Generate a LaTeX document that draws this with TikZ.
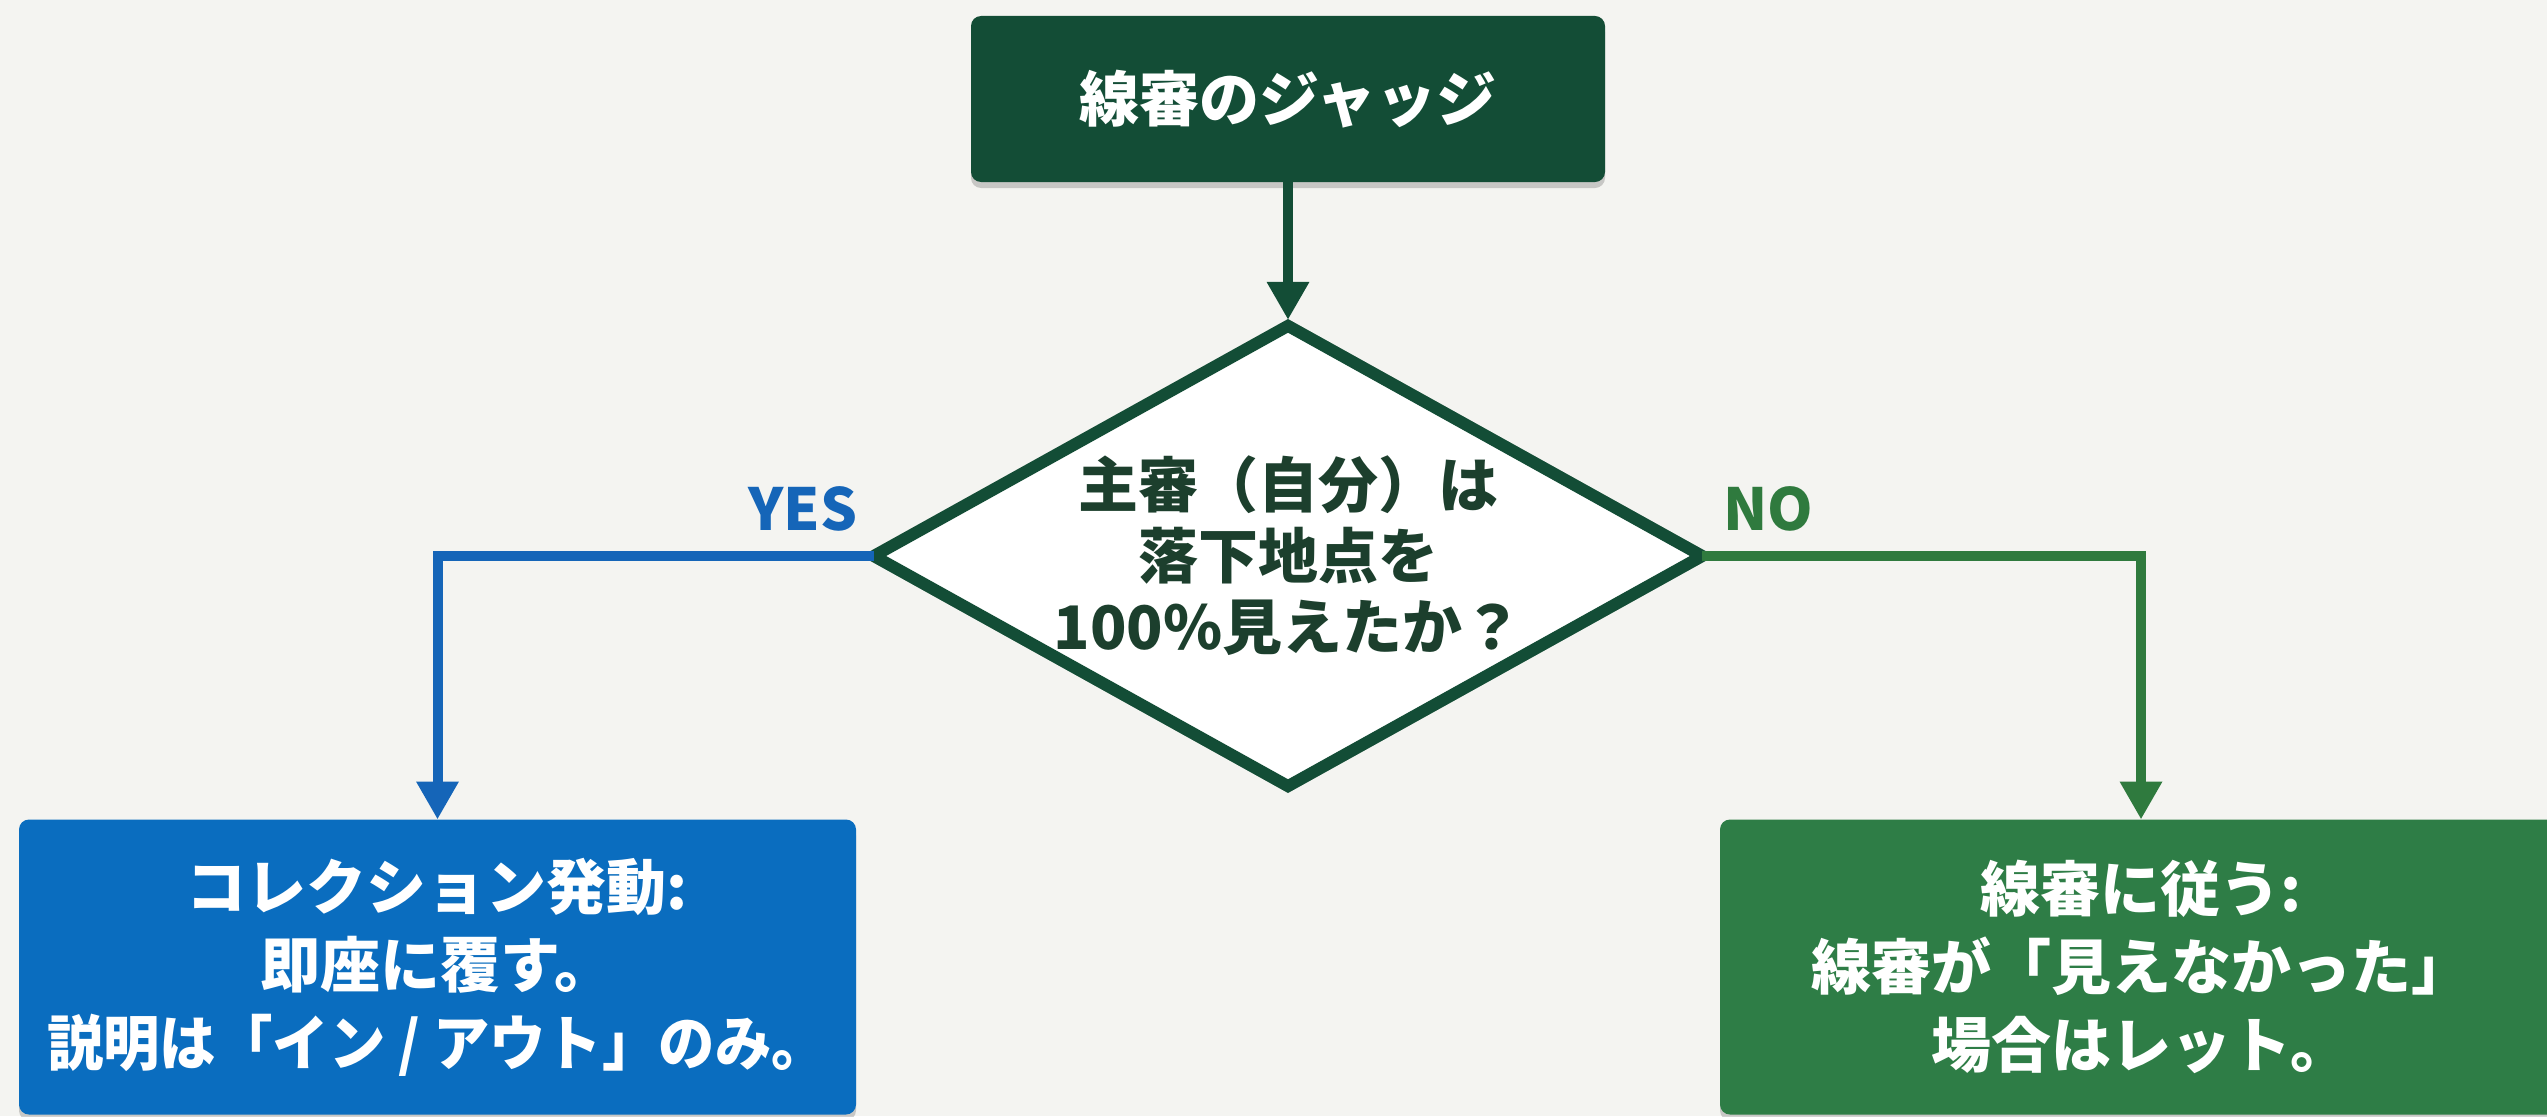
\documentclass[tikz,border=0pt]{standalone}
\usepackage{fontspec}
\usepackage{graphicx}
\setmainfont{Noto Sans CJK JP}
\usetikzlibrary{arrows.meta,shapes.geometric,shadows}
\definecolor{bgc}{HTML}{F4F4F1}
\definecolor{darkg}{HTML}{134D36}
\definecolor{dtext}{HTML}{1C3F2D}
\definecolor{blueb}{HTML}{0A6DBF}
\definecolor{bluel}{HTML}{1565B8}
\definecolor{greenb}{HTML}{2E7D46}
\definecolor{greenl}{HTML}{2F7A3E}
\tikzset{
  txt/.style={font=\bfseries\fontsize{60pt}{78pt}\selectfont, align=center},
  boxstyle/.style={txt, rounded corners=10pt, inner sep=0pt, outer sep=0pt, text=white,
     drop shadow={shadow xshift=0pt, shadow yshift=-6pt, opacity=0.18, fill=black}},
  decision/.style={diamond, draw=darkg, line width=12pt, fill=white!97!bgc, inner sep=0pt, outer sep=0pt,
     minimum width=806pt, minimum height=448pt, aspect=1.8, text=dtext,
     font=\bfseries\fontsize{60pt}{71pt}\selectfont, align=center},
  lbl/.style={font=\bfseries\fontsize{58pt}{60pt}\selectfont},
  tip/.style={-{Triangle[width=40pt,length=38pt]}},
}
\begin{document}
\begin{tikzpicture}[x=1pt,y=-1pt]
\fill[bgc] (0,0) rectangle (2547,1116);
\useasboundingbox (0,0) rectangle (2547,1116);
\node[boxstyle, fill=darkg, minimum width=634pt, minimum height=166pt] (top) at (1288,99) {線審のジャッジ};
\node[decision] (q) at (1288,556) {主審（自分）は\\落下地点を\\100\%見えたか？};
\node[boxstyle, fill=blueb, minimum width=837pt, minimum height=295pt] (yes) at (437.5,967) {コレクション発動:\\即座に覆す。\\\scalebox{0.94}[1]{説明は「イン / アウト」のみ。}};
\node[boxstyle, fill=greenb, minimum width=842pt, minimum height=295pt] (no) at (2141,967) {線審に従う:\\線審が「見えなかった」\\場合はレット。};
\node[lbl, text=bluel] (yeslbl) at (803,509) {YES};
\node[lbl, text=greenl] (nolbl) at (1768,509) {NO};
\draw[tip, darkg, line width=10pt, shorten >=6pt] (top.south) -- (q.north);
\draw[tip, bluel, line width=10pt] (q.west) -| (yes.north);
\draw[tip, greenl, line width=10pt] (q.east) -| (no.north);
\end{tikzpicture}
\end{document}
